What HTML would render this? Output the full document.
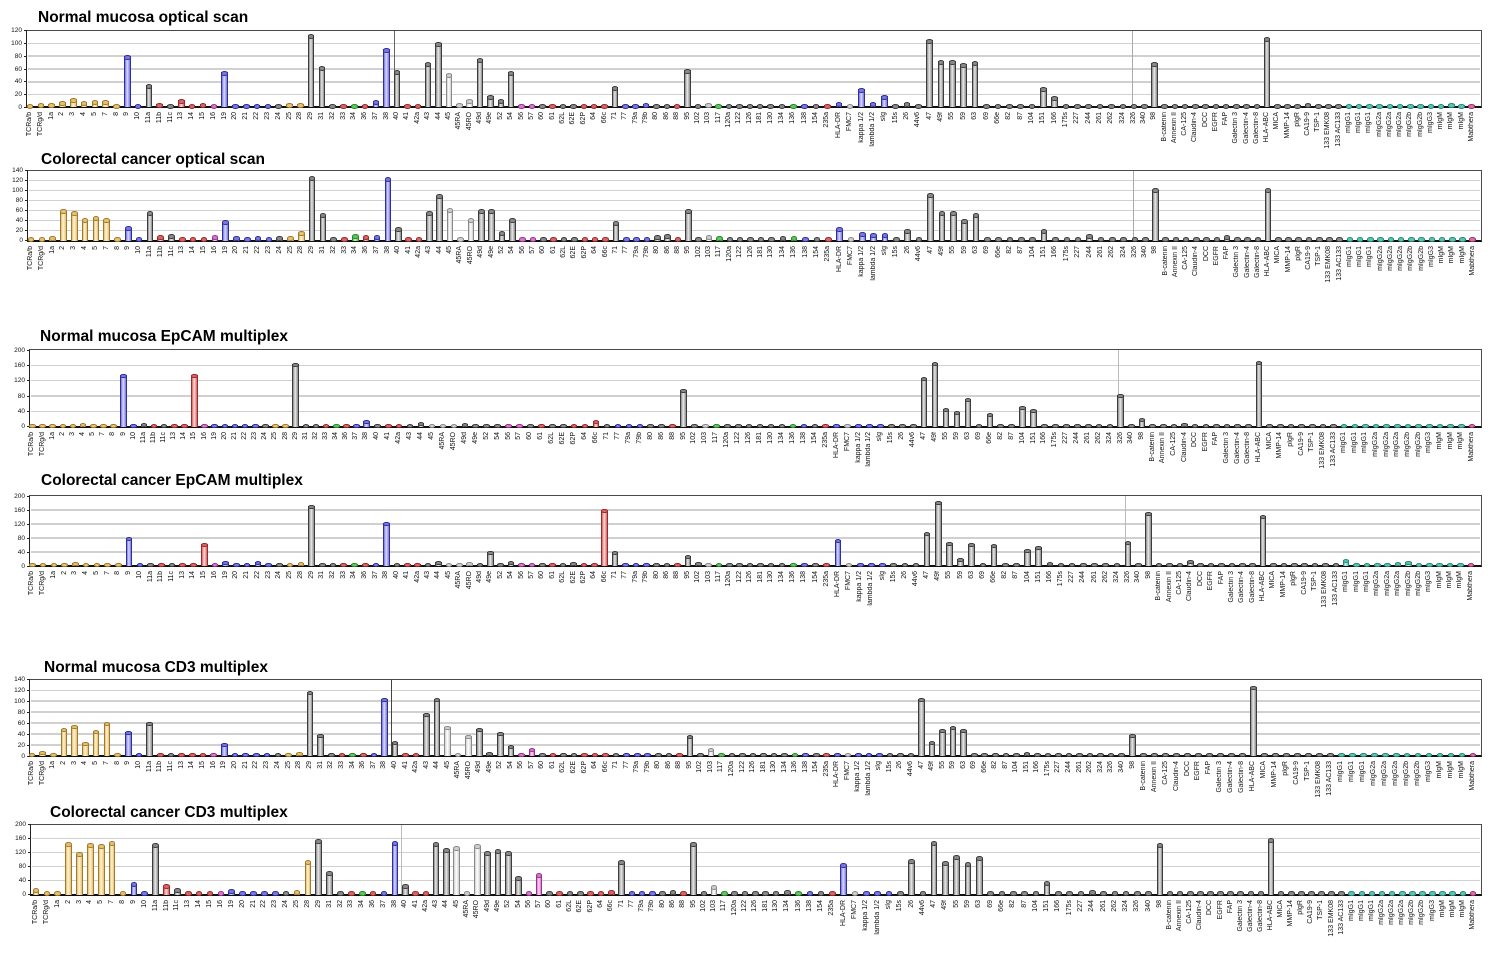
<!DOCTYPE html>
<html><head><meta charset="utf-8">
<style>
html,body{margin:0;padding:0}
body{width:1500px;height:957px;position:relative;background:#fff;overflow:hidden;font-family:"Liberation Sans",Arial,sans-serif}
.t{position:absolute;font-weight:bold;font-size:15.5px;line-height:18px;color:#000;white-space:nowrap}
.f{position:absolute;box-sizing:border-box;border-top:1.5px solid #4a4a4a;border-right:1.5px solid #4a4a4a;border-left:1.5px solid #222;border-bottom:2px solid #111}
.g{position:absolute;height:1.6px;background:#d0d0d0}
.k{position:absolute;width:3px;height:1px;background:#222}
.y{position:absolute;left:0;font-size:6.5px;line-height:7px;text-align:right;color:#111}
.v{position:absolute;width:1px}
.s{position:absolute;display:flex;height:0}
.s i{flex:1 1 0;position:relative;height:0;font-style:normal;--h:1px}
.s i::before{content:"";position:absolute;bottom:0;left:50%;margin-left:-3.3px;width:4.6px;height:var(--h);border:1px solid var(--d);border-bottom:0;background:linear-gradient(90deg,var(--c),var(--l) 45%,var(--c))}
.s i::after{content:"";position:absolute;bottom:calc(var(--h) - 2.3px);left:50%;margin-left:-3.3px;width:6.6px;height:4.6px;box-sizing:border-box;border:1px solid var(--d);border-radius:50%;background:var(--c)}
.s u{position:absolute;top:5px;left:50%;margin-left:-4px;width:8px;writing-mode:vertical-rl;transform:rotate(180deg);font-size:7px;line-height:8px;text-decoration:none;white-space:nowrap;color:#111}
.Y{--d:#a07a2c;--c:#e8c070;--l:#fff4d4}
.B{--d:#2e2e9e;--c:#7878e0;--l:#d8d8ff}
.G{--d:#3c3c3c;--c:#8a8a8a;--l:#e8e8e8}
.L{--d:#8a8a8a;--c:#cfcfcf;--l:#ffffff}
.R{--d:#9a2a2a;--c:#d86464;--l:#ffd8d8}
.P{--d:#9a3090;--c:#d878c8;--l:#ffd8f4}
.N{--d:#2a8a2a;--c:#5cc85c;--l:#c8f8c8}
.T{--d:#2a8a7a;--c:#58c4b4;--l:#c8f4ee}
.M{--d:#a03070;--c:#d870a8;--l:#ffd0e8}
</style></head><body>

<!-- ============ PANEL 1 ============ -->
<div class=t style="left:38px;top:9px">Normal mucosa optical scan</div>
<div class=g style="left:28px;width:1452px;top:93.7px"></div>
<div class=g style="left:28px;width:1452px;top:81px"></div>
<div class=g style="left:28px;width:1452px;top:68.2px"></div>
<div class=g style="left:28px;width:1452px;top:55.4px"></div>
<div class=g style="left:28px;width:1452px;top:42.7px"></div>
<div class=v style="left:393.5px;top:30.5px;height:77px;background:#666"></div>
<div class=v style="left:1131.5px;top:30.5px;height:77px;background:#aaa"></div>
<div class=f style="left:26.25px;top:29.75px;width:1455.5px;height:78.55px"></div>
<div class=y style="top:103.8px;width:22px">0</div>
<div class=y style="top:91px;width:22px">20</div>
<div class=y style="top:78.3px;width:22px">40</div>
<div class=y style="top:65.5px;width:22px">60</div>
<div class=y style="top:52.7px;width:22px">80</div>
<div class=y style="top:40px;width:22px">100</div>
<div class=y style="top:27.2px;width:22px">120</div>
<div class=k style="left:23.5px;top:106.8px"></div><div class=k style="left:23.5px;top:94px"></div><div class=k style="left:23.5px;top:81.3px"></div><div class=k style="left:23.5px;top:68.5px"></div><div class=k style="left:23.5px;top:55.7px"></div><div class=k style="left:23.5px;top:43px"></div><div class=k style="left:23.5px;top:30.2px"></div>

<div class=s style="left:24.6px;top:107.3px;width:356.7px">
<i class=Y><u>TCRa/b</u></i><i class=Y style=--h:2px><u>TCRg/d</u></i><i class=Y style=--h:2px><u>1a</u></i><i class=Y style=--h:4px><u>2</u></i><i class=Y style=--h:7px><u>3</u></i><i class=Y style=--h:4px><u>4</u></i><i class=Y style=--h:5px><u>5</u></i><i class=Y style=--h:5px><u>7</u></i><i class=Y><u>8</u></i><i class=B style=--h:50px><u>9</u></i><i class=B><u>10</u></i><i class=G style=--h:21px><u>11a</u></i><i class=R style=--h:2px><u>11b</u></i><i class=G><u>11c</u></i><i class=R style=--h:6px><u>13</u></i><i class=R><u>14</u></i><i class=R style=--h:2px><u>15</u></i><i class=P><u>16</u></i><i class=B style=--h:34px><u>19</u></i><i class=B><u>20</u></i><i class=B><u>21</u></i><i class=B><u>22</u></i><i class=B><u>23</u></i><i class=G><u>24</u></i><i class=Y style=--h:2px><u>25</u></i><i class=Y style=--h:2px><u>28</u></i><i class=G style=--h:71px><u>29</u></i><i class=G style=--h:39px><u>31</u></i><i class=G><u>32</u></i><i class=R><u>33</u></i><i class=N><u>34</u></i><i class=R><u>36</u></i><i class=B style=--h:5px><u>37</u></i>
</div>
<div class=s style="left:381.5px;top:107.3px;width:384px">
<i class=B style=--h:57px><u>38</u></i><i class=G style=--h:35px><u>40</u></i><i class=R><u>41</u></i><i class=R><u>42a</u></i><i class=G style=--h:43px><u>43</u></i><i class=G style=--h:63px><u>44</u></i><i class=L style=--h:32px><u>45</u></i><i class=L style=--h:2px><u>45RA</u></i><i class=L style=--h:6px><u>45RO</u></i><i class=G style=--h:47px><u>49d</u></i><i class=G style=--h:10px><u>49e</u></i><i class=G style=--h:6px><u>52</u></i><i class=G style=--h:34px><u>54</u></i><i class=P><u>56</u></i><i class=P><u>57</u></i><i class=G><u>60</u></i><i class=R><u>61</u></i><i class=G><u>62L</u></i><i class=G><u>62E</u></i><i class=R><u>62P</u></i><i class=R><u>64</u></i><i class=R><u>66c</u></i><i class=G style=--h:19px><u>71</u></i><i class=B><u>77</u></i><i class=B><u>79a</u></i><i class=B style=--h:2px><u>79b</u></i><i class=G><u>80</u></i><i class=G><u>86</u></i><i class=R><u>88</u></i><i class=G style=--h:36px><u>95</u></i><i class=G><u>102</u></i><i class=L style=--h:2px><u>103</u></i><i class=N><u>117</u></i><i class=G><u>120a</u></i><i class=G><u>122</u></i><i class=G><u>126</u></i><i class=G><u>181</u></i>
</div>
<div class=s style="left:765px;top:107.3px;width:363.3px">
<i class=G><u>130</u></i><i class=G><u>134</u></i><i class=N><u>136</u></i><i class=B><u>138</u></i><i class=G><u>154</u></i><i class=R><u>235a</u></i><i class=B style=--h:3px><u>HLA-DR</u></i><i class=L><u>FMC7</u></i><i class=B style=--h:17px><u>kappa 1/2</u></i><i class=B style=--h:3px><u>lambda 1/2</u></i><i class=B style=--h:10px><u>sIg</u></i><i class=G><u>15s</u></i><i class=G style=--h:3px><u>26</u></i><i class=G><u>44v6</u></i><i class=G style=--h:66px><u>47</u></i><i class=G style=--h:45px><u>49f</u></i><i class=G style=--h:45px><u>55</u></i><i class=G style=--h:42px><u>59</u></i><i class=G style=--h:44px><u>63</u></i><i class=G><u>69</u></i><i class=G><u>66e</u></i><i class=G><u>82</u></i><i class=G><u>87</u></i><i class=G><u>104</u></i><i class=G style=--h:18px><u>151</u></i><i class=G style=--h:9px><u>166</u></i><i class=G><u>175s</u></i><i class=G><u>227</u></i><i class=G><u>244</u></i><i class=G><u>261</u></i><i class=G><u>262</u></i><i class=G><u>324</u></i>
</div>
<div class=s style="left:1128.9px;top:107.3px;width:347.9px">
<i class=G><u>326</u></i><i class=G><u>340</u></i><i class=G style=--h:43px><u>98</u></i><i class=G><u>B-catenin</u></i><i class=G><u>Annexin II</u></i><i class=G><u>CA-125</u></i><i class=G><u>Claudin-4</u></i><i class=G><u>DCC</u></i><i class=G><u>EGFR</u></i><i class=G><u>FAP</u></i><i class=G><u>Galectin 3</u></i><i class=G><u>Galectin-4</u></i><i class=G><u>Galectin-8</u></i><i class=G style=--h:68px><u>HLA-ABC</u></i><i class=G><u>MICA</u></i><i class=G><u>MMP-14</u></i><i class=G><u>pIgR</u></i><i class=G style=--h:2px><u>CA19-9</u></i><i class=G><u>TSP-1</u></i><i class=G><u>133 EMK08</u></i><i class=G><u>133 AC133</u></i><i class=T><u>mIgG1</u></i><i class=T><u>mIgG1</u></i><i class=T><u>mIgG1</u></i><i class=T><u>mIgG2a</u></i><i class=T><u>mIgG2a</u></i><i class=T><u>mIgG2a</u></i><i class=T><u>mIgG2b</u></i><i class=T><u>mIgG2b</u></i><i class=T><u>mIgG3</u></i><i class=T><u>mIgM</u></i><i class=T style=--h:2px><u>mIgM</u></i><i class=T><u>mIgM</u></i><i class=M><u>Mabthera</u></i>
</div>

<!-- ============ PANEL 2 ============ -->
<div class=t style="left:41px;top:151px">Colorectal cancer optical scan</div>
<div class=g style="left:29px;width:1451px;top:229.7px"></div>
<div class=g style="left:29px;width:1451px;top:219.7px"></div>
<div class=g style="left:29px;width:1451px;top:209.7px"></div>
<div class=g style="left:29px;width:1451px;top:199.7px"></div>
<div class=g style="left:29px;width:1451px;top:189.7px"></div>
<div class=g style="left:29px;width:1451px;top:179.7px"></div>
<div class=v style="left:1132.5px;top:170.5px;height:70px;background:#aaa"></div>
<div class=f style="left:27.25px;top:169.75px;width:1454.5px;height:71.75px"></div>
<div class=y style="top:237px;width:23px">0</div>
<div class=y style="top:227px;width:23px">20</div>
<div class=y style="top:217px;width:23px">40</div>
<div class=y style="top:207px;width:23px">60</div>
<div class=y style="top:197px;width:23px">80</div>
<div class=y style="top:187px;width:23px">100</div>
<div class=y style="top:177px;width:23px">120</div>
<div class=y style="top:167px;width:23px">140</div>
<div class=k style="left:24.5px;top:240px"></div><div class=k style="left:24.5px;top:230px"></div><div class=k style="left:24.5px;top:220px"></div><div class=k style="left:24.5px;top:210px"></div><div class=k style="left:24.5px;top:200px"></div><div class=k style="left:24.5px;top:190px"></div><div class=k style="left:24.5px;top:180px"></div><div class=k style="left:24.5px;top:170px"></div>

<div class=s style="left:25.6px;top:240.5px;width:357px">
<i class=Y><u>TCRa/b</u></i><i class=Y><u>TCRg/d</u></i><i class=Y style=--h:2px><u>1a</u></i><i class=Y style=--h:29px><u>2</u></i><i class=Y style=--h:27px><u>3</u></i><i class=Y style=--h:20px><u>4</u></i><i class=Y style=--h:22px><u>5</u></i><i class=Y style=--h:20px><u>7</u></i><i class=Y><u>8</u></i><i class=B style=--h:12px><u>9</u></i><i class=B><u>10</u></i><i class=G style=--h:27px><u>11a</u></i><i class=R style=--h:3px><u>11b</u></i><i class=G style=--h:4px><u>11c</u></i><i class=R><u>13</u></i><i class=R><u>14</u></i><i class=R><u>15</u></i><i class=P style=--h:3px><u>16</u></i><i class=B style=--h:18px><u>19</u></i><i class=B style=--h:2px><u>20</u></i><i class=B><u>21</u></i><i class=B style=--h:2px><u>22</u></i><i class=B><u>23</u></i><i class=G style=--h:2px><u>24</u></i><i class=Y style=--h:2px><u>25</u></i><i class=Y style=--h:7px><u>28</u></i><i class=G style=--h:62px><u>29</u></i><i class=G style=--h:25px><u>31</u></i><i class=G><u>32</u></i><i class=R><u>33</u></i><i class=N style=--h:4px><u>34</u></i><i class=R style=--h:3px><u>36</u></i><i class=B style=--h:3px><u>37</u></i>
</div>
<div class=s style="left:382.8px;top:240.5px;width:383.5px">
<i class=B style=--h:61px><u>38</u></i><i class=G style=--h:11px><u>40</u></i><i class=R><u>41</u></i><i class=R><u>42a</u></i><i class=G style=--h:27px><u>43</u></i><i class=G style=--h:44px><u>44</u></i><i class=L style=--h:30px><u>45</u></i><i class=L><u>45RA</u></i><i class=L style=--h:20px><u>45RO</u></i><i class=G style=--h:29px><u>49d</u></i><i class=G style=--h:29px><u>49e</u></i><i class=G style=--h:7px><u>52</u></i><i class=G style=--h:20px><u>54</u></i><i class=P><u>56</u></i><i class=P><u>57</u></i><i class=G><u>60</u></i><i class=R><u>61</u></i><i class=G><u>62L</u></i><i class=G><u>62E</u></i><i class=R><u>62P</u></i><i class=R><u>64</u></i><i class=R><u>66c</u></i><i class=G style=--h:17px><u>71</u></i><i class=B><u>77</u></i><i class=B><u>79a</u></i><i class=B><u>79b</u></i><i class=G style=--h:3px><u>80</u></i><i class=G style=--h:4px><u>86</u></i><i class=R><u>88</u></i><i class=G style=--h:29px><u>95</u></i><i class=G><u>102</u></i><i class=L style=--h:3px><u>103</u></i><i class=N style=--h:2px><u>117</u></i><i class=G><u>120a</u></i><i class=G><u>122</u></i><i class=G><u>126</u></i><i class=G><u>181</u></i>
</div>
<div class=s style="left:765.8px;top:240.5px;width:363.5px">
<i class=G><u>130</u></i><i class=G style=--h:2px><u>134</u></i><i class=N style=--h:2px><u>136</u></i><i class=B><u>138</u></i><i class=G><u>154</u></i><i class=R><u>235a</u></i><i class=B style=--h:11px><u>HLA-DR</u></i><i class=L><u>FMC7</u></i><i class=B style=--h:6px><u>kappa 1/2</u></i><i class=B style=--h:5px><u>lambda 1/2</u></i><i class=B style=--h:5px><u>sIg</u></i><i class=G><u>15s</u></i><i class=G style=--h:9px><u>26</u></i><i class=G><u>44v6</u></i><i class=G style=--h:45px><u>47</u></i><i class=G style=--h:27px><u>49f</u></i><i class=G style=--h:27px><u>55</u></i><i class=G style=--h:19px><u>59</u></i><i class=G style=--h:25px><u>63</u></i><i class=G><u>69</u></i><i class=G><u>66e</u></i><i class=G><u>82</u></i><i class=G><u>87</u></i><i class=G><u>104</u></i><i class=G style=--h:9px><u>151</u></i><i class=G><u>166</u></i><i class=G><u>175s</u></i><i class=G><u>227</u></i><i class=G style=--h:4px><u>244</u></i><i class=G><u>261</u></i><i class=G><u>262</u></i><i class=G><u>324</u></i>
</div>
<div class=s style="left:1129.9px;top:240.5px;width:348.2px">
<i class=G><u>326</u></i><i class=G><u>340</u></i><i class=G style=--h:50px><u>98</u></i><i class=G><u>B-catenin</u></i><i class=G><u>Annexin II</u></i><i class=G><u>CA-125</u></i><i class=G><u>Claudin-4</u></i><i class=G><u>DCC</u></i><i class=G><u>EGFR</u></i><i class=G style=--h:3px><u>FAP</u></i><i class=G><u>Galectin 3</u></i><i class=G><u>Galectin-4</u></i><i class=G><u>Galectin-8</u></i><i class=G style=--h:50px><u>HLA-ABC</u></i><i class=G><u>MICA</u></i><i class=G><u>MMP-14</u></i><i class=G><u>pIgR</u></i><i class=G><u>CA19-9</u></i><i class=G><u>TSP-1</u></i><i class=G><u>133 EMK08</u></i><i class=G><u>133 AC133</u></i><i class=T><u>mIgG1</u></i><i class=T><u>mIgG1</u></i><i class=T><u>mIgG1</u></i><i class=T><u>mIgG2a</u></i><i class=T><u>mIgG2a</u></i><i class=T><u>mIgG2a</u></i><i class=T><u>mIgG2b</u></i><i class=T><u>mIgG2b</u></i><i class=T><u>mIgG3</u></i><i class=T><u>mIgM</u></i><i class=T><u>mIgM</u></i><i class=T><u>mIgM</u></i><i class=M><u>Mabthera</u></i>
</div>

<!-- ============ PANEL 3 ============ -->
<div class=t style="left:40px;top:328px">Normal mucosa EpCAM multiplex</div>
<div class=g style="left:31px;width:1449px;top:410.6px"></div>
<div class=g style="left:31px;width:1449px;top:395.3px"></div>
<div class=g style="left:31px;width:1449px;top:379.9px"></div>
<div class=g style="left:31px;width:1449px;top:364.6px"></div>
<div class=v style="left:1118px;top:350px;height:77px;background:#bbb"></div>
<div class=f style="left:29.25px;top:349.25px;width:1452.5px;height:78.55px"></div>
<div class=y style="top:423.3px;width:25px">0</div>
<div class=y style="top:407.9px;width:25px">40</div>
<div class=y style="top:392.6px;width:25px">80</div>
<div class=y style="top:377.2px;width:25px">120</div>
<div class=y style="top:361.9px;width:25px">160</div>
<div class=y style="top:346.5px;width:25px">200</div>
<div class=k style="left:26.5px;top:426.3px"></div><div class=k style="left:26.5px;top:410.9px"></div><div class=k style="left:26.5px;top:395.6px"></div><div class=k style="left:26.5px;top:380.2px"></div><div class=k style="left:26.5px;top:364.9px"></div><div class=k style="left:26.5px;top:349.5px"></div>

<div class=s style="left:27.4px;top:426.8px;width:333.9px">
<i class=Y><u>TCRa/b</u></i><i class=Y><u>TCRg/d</u></i><i class=Y><u>1a</u></i><i class=Y><u>2</u></i><i class=Y><u>3</u></i><i class=Y style=--h:2px><u>4</u></i><i class=Y><u>5</u></i><i class=Y><u>7</u></i><i class=Y><u>8</u></i><i class=B style=--h:51px><u>9</u></i><i class=B><u>10</u></i><i class=G style=--h:2px><u>11a</u></i><i class=R><u>11b</u></i><i class=G><u>11c</u></i><i class=R><u>13</u></i><i class=R><u>14</u></i><i class=R style=--h:51px><u>15</u></i><i class=P><u>16</u></i><i class=B><u>19</u></i><i class=B><u>20</u></i><i class=B><u>21</u></i><i class=B><u>22</u></i><i class=B><u>23</u></i><i class=G><u>24</u></i><i class=Y><u>25</u></i><i class=Y><u>28</u></i><i class=G style=--h:62px><u>29</u></i><i class=G><u>31</u></i><i class=G><u>32</u></i><i class=R><u>33</u></i><i class=N><u>34</u></i><i class=R><u>36</u></i><i class=B><u>37</u></i>
</div>
<div class=s style="left:360.9px;top:426.8px;width:754.3px">
<i class=B style=--h:5px><u>38</u></i><i class=G><u>40</u></i><i class=R><u>41</u></i><i class=R><u>42a</u></i><i class=G><u>43</u></i><i class=G style=--h:3px><u>44</u></i><i class=L><u>45</u></i><i class=L><u>45RA</u></i><i class=L><u>45RO</u></i><i class=G style=--h:2px><u>49d</u></i><i class=G><u>49e</u></i><i class=G><u>52</u></i><i class=G><u>54</u></i><i class=P><u>56</u></i><i class=P><u>57</u></i><i class=G><u>60</u></i><i class=R><u>61</u></i><i class=G><u>62L</u></i><i class=G><u>62E</u></i><i class=R><u>62P</u></i><i class=R><u>64</u></i><i class=R style=--h:5px><u>66c</u></i><i class=G><u>71</u></i><i class=B><u>77</u></i><i class=B><u>79a</u></i><i class=B><u>79b</u></i><i class=G><u>80</u></i><i class=G><u>86</u></i><i class=R><u>88</u></i><i class=G style=--h:36px><u>95</u></i><i class=G><u>102</u></i><i class=L><u>103</u></i><i class=N><u>117</u></i><i class=G><u>120a</u></i><i class=G><u>122</u></i><i class=G><u>126</u></i><i class=G><u>181</u></i><i class=G><u>130</u></i><i class=G><u>134</u></i><i class=N><u>136</u></i><i class=B><u>138</u></i><i class=G><u>154</u></i><i class=R><u>235a</u></i><i class=B><u>HLA-DR</u></i><i class=L><u>FMC7</u></i><i class=B><u>kappa 1/2</u></i><i class=B><u>lambda 1/2</u></i><i class=B><u>sIg</u></i><i class=G><u>15s</u></i><i class=G><u>26</u></i><i class=G><u>44v6</u></i><i class=G style=--h:48px><u>47</u></i><i class=G style=--h:63px><u>49f</u></i><i class=G style=--h:17px><u>55</u></i><i class=G style=--h:14px><u>59</u></i><i class=G style=--h:27px><u>63</u></i><i class=G><u>69</u></i><i class=G style=--h:12px><u>66e</u></i><i class=G><u>82</u></i><i class=G><u>87</u></i><i class=G style=--h:19px><u>104</u></i><i class=G style=--h:16px><u>151</u></i><i class=G><u>166</u></i><i class=G><u>175s</u></i><i class=G><u>227</u></i><i class=G><u>244</u></i><i class=G><u>261</u></i><i class=G><u>262</u></i><i class=G><u>324</u></i>
</div>
<div class=s style="left:1115.4px;top:426.8px;width:361.9px">
<i class=G style=--h:31px><u>326</u></i><i class=G><u>340</u></i><i class=G style=--h:7px><u>98</u></i><i class=G><u>B-catenin</u></i><i class=G><u>Annexin II</u></i><i class=G><u>CA-125</u></i><i class=G style=--h:2px><u>Claudin-4</u></i><i class=G><u>DCC</u></i><i class=G><u>EGFR</u></i><i class=G><u>FAP</u></i><i class=G><u>Galectin 3</u></i><i class=G><u>Galectin-4</u></i><i class=G><u>Galectin-8</u></i><i class=G style=--h:64px><u>HLA-ABC</u></i><i class=G><u>MICA</u></i><i class=G><u>MMP-14</u></i><i class=G><u>pIgR</u></i><i class=G><u>CA19-9</u></i><i class=G><u>TSP-1</u></i><i class=G><u>133 EMK08</u></i><i class=G><u>133 AC133</u></i><i class=T><u>mIgG1</u></i><i class=T><u>mIgG1</u></i><i class=T><u>mIgG1</u></i><i class=T><u>mIgG2a</u></i><i class=T><u>mIgG2a</u></i><i class=T><u>mIgG2a</u></i><i class=T><u>mIgG2b</u></i><i class=T><u>mIgG2b</u></i><i class=T><u>mIgG3</u></i><i class=T><u>mIgM</u></i><i class=T><u>mIgM</u></i><i class=T><u>mIgM</u></i><i class=M><u>Mabthera</u></i>
</div>

<!-- ============ PANEL 4 ============ -->
<div class=t style="left:41px;top:472px">Colorectal cancer EpCAM multiplex</div>
<div class=g style="left:31px;width:1449px;top:551.2px"></div>
<div class=g style="left:31px;width:1449px;top:537.2px"></div>
<div class=g style="left:31px;width:1449px;top:523.2px"></div>
<div class=g style="left:31px;width:1449px;top:509.2px"></div>
<div class=v style="left:1124.5px;top:496px;height:70px;background:#bbb"></div>
<div class=f style="left:29.25px;top:495.25px;width:1452.5px;height:71.75px"></div>
<div class=y style="top:562.5px;width:25px">0</div>
<div class=y style="top:548.5px;width:25px">40</div>
<div class=y style="top:534.5px;width:25px">80</div>
<div class=y style="top:520.5px;width:25px">120</div>
<div class=y style="top:506.5px;width:25px">160</div>
<div class=y style="top:492.5px;width:25px">200</div>
<div class=k style="left:26.5px;top:565.5px"></div><div class=k style="left:26.5px;top:551.5px"></div><div class=k style="left:26.5px;top:537.5px"></div><div class=k style="left:26.5px;top:523.5px"></div><div class=k style="left:26.5px;top:509.5px"></div><div class=k style="left:26.5px;top:495.5px"></div>

<div class=s style="left:27.1px;top:566px;width:354px">
<i class=Y><u>TCRa/b</u></i><i class=Y><u>TCRg/d</u></i><i class=Y><u>1a</u></i><i class=Y><u>2</u></i><i class=Y style=--h:2px><u>3</u></i><i class=Y><u>4</u></i><i class=Y><u>5</u></i><i class=Y><u>7</u></i><i class=Y><u>8</u></i><i class=B style=--h:27px><u>9</u></i><i class=B><u>10</u></i><i class=G><u>11a</u></i><i class=R><u>11b</u></i><i class=G><u>11c</u></i><i class=R><u>13</u></i><i class=R><u>14</u></i><i class=R style=--h:21px><u>15</u></i><i class=P><u>16</u></i><i class=B style=--h:3px><u>19</u></i><i class=B><u>20</u></i><i class=B><u>21</u></i><i class=B style=--h:3px><u>22</u></i><i class=B><u>23</u></i><i class=G><u>24</u></i><i class=Y><u>25</u></i><i class=Y style=--h:2px><u>28</u></i><i class=G style=--h:59px><u>29</u></i><i class=G><u>31</u></i><i class=G><u>32</u></i><i class=R><u>33</u></i><i class=N><u>34</u></i><i class=R><u>36</u></i><i class=B><u>37</u></i>
</div>
<div class=s style="left:381.3px;top:566px;width:384.5px">
<i class=B style=--h:42px><u>38</u></i><i class=G><u>40</u></i><i class=R><u>41</u></i><i class=R><u>42a</u></i><i class=G><u>43</u></i><i class=G style=--h:3px><u>44</u></i><i class=L><u>45</u></i><i class=L><u>45RA</u></i><i class=L style=--h:2px><u>45RO</u></i><i class=G><u>49d</u></i><i class=G style=--h:13px><u>49e</u></i><i class=G><u>52</u></i><i class=G style=--h:3px><u>54</u></i><i class=P><u>56</u></i><i class=P><u>57</u></i><i class=G><u>60</u></i><i class=R><u>61</u></i><i class=G><u>62L</u></i><i class=G style=--h:2px><u>62E</u></i><i class=R><u>62P</u></i><i class=R><u>64</u></i><i class=R style=--h:55px><u>66c</u></i><i class=G style=--h:13px><u>71</u></i><i class=B><u>77</u></i><i class=B><u>79a</u></i><i class=B><u>79b</u></i><i class=G><u>80</u></i><i class=G><u>86</u></i><i class=R><u>88</u></i><i class=G style=--h:9px><u>95</u></i><i class=G style=--h:2px><u>102</u></i><i class=L><u>103</u></i><i class=N><u>117</u></i><i class=G><u>120a</u></i><i class=G><u>122</u></i><i class=G><u>126</u></i><i class=G><u>181</u></i>
</div>
<div class=s style="left:765.4px;top:566px;width:357px">
<i class=G><u>130</u></i><i class=G><u>134</u></i><i class=N><u>136</u></i><i class=B><u>138</u></i><i class=G><u>154</u></i><i class=R><u>235a</u></i><i class=B style=--h:25px><u>HLA-DR</u></i><i class=L><u>FMC7</u></i><i class=B><u>kappa 1/2</u></i><i class=B><u>lambda 1/2</u></i><i class=B><u>sIg</u></i><i class=G><u>15s</u></i><i class=G><u>26</u></i><i class=G><u>44v6</u></i><i class=G style=--h:32px><u>47</u></i><i class=G style=--h:63px><u>49f</u></i><i class=G style=--h:22px><u>55</u></i><i class=G style=--h:6px><u>59</u></i><i class=G style=--h:21px><u>63</u></i><i class=G><u>69</u></i><i class=G style=--h:20px><u>66e</u></i><i class=G><u>82</u></i><i class=G><u>87</u></i><i class=G style=--h:15px><u>104</u></i><i class=G style=--h:18px><u>151</u></i><i class=G style=--h:2px><u>166</u></i><i class=G><u>175s</u></i><i class=G><u>227</u></i><i class=G><u>244</u></i><i class=G><u>261</u></i><i class=G><u>262</u></i><i class=G><u>324</u></i>
</div>
<div class=s style="left:1122.8px;top:566px;width:353.4px">
<i class=G style=--h:23px><u>326</u></i><i class=G><u>340</u></i><i class=G style=--h:52px><u>98</u></i><i class=G><u>B-catenin</u></i><i class=G><u>Annexin II</u></i><i class=G><u>CA-125</u></i><i class=G style=--h:4px><u>Claudin-4</u></i><i class=G><u>DCC</u></i><i class=G><u>EGFR</u></i><i class=G><u>FAP</u></i><i class=G><u>Galectin 3</u></i><i class=G><u>Galectin-4</u></i><i class=G><u>Galectin-8</u></i><i class=G style=--h:49px><u>HLA-ABC</u></i><i class=G><u>MICA</u></i><i class=G><u>MMP-14</u></i><i class=G><u>pIgR</u></i><i class=G><u>CA19-9</u></i><i class=G><u>TSP-1</u></i><i class=G><u>133 EMK08</u></i><i class=G><u>133 AC133</u></i><i class=T style=--h:5px><u>mIgG1</u></i><i class=T><u>mIgG1</u></i><i class=T><u>mIgG1</u></i><i class=T><u>mIgG2a</u></i><i class=T><u>mIgG2a</u></i><i class=T style=--h:2px><u>mIgG2a</u></i><i class=T style=--h:3px><u>mIgG2b</u></i><i class=T><u>mIgG2b</u></i><i class=T><u>mIgG3</u></i><i class=T><u>mIgM</u></i><i class=T><u>mIgM</u></i><i class=T><u>mIgM</u></i><i class=M><u>Mabthera</u></i>
</div>

<!-- ============ PANEL 5 ============ -->
<div class=t style="left:44px;top:659px">Normal mucosa CD3 multiplex</div>
<div class=g style="left:31px;width:1449px;top:744.2px"></div>
<div class=g style="left:31px;width:1449px;top:733.3px"></div>
<div class=g style="left:31px;width:1449px;top:722.3px"></div>
<div class=g style="left:31px;width:1449px;top:711.4px"></div>
<div class=g style="left:31px;width:1449px;top:700.4px"></div>
<div class=g style="left:31px;width:1449px;top:689.5px"></div>
<div class=v style="left:390.5px;top:679.3px;height:77px;background:#444"></div>
<div class=f style="left:29.25px;top:678.55px;width:1452.5px;height:78.45px"></div>
<div class=y style="top:752.5px;width:25px">0</div>
<div class=y style="top:741.5px;width:25px">20</div>
<div class=y style="top:730.6px;width:25px">40</div>
<div class=y style="top:719.6px;width:25px">60</div>
<div class=y style="top:708.7px;width:25px">80</div>
<div class=y style="top:697.7px;width:25px">100</div>
<div class=y style="top:686.8px;width:25px">120</div>
<div class=y style="top:675.8px;width:25px">140</div>
<div class=k style="left:26.5px;top:755.5px"></div><div class=k style="left:26.5px;top:744.5px"></div><div class=k style="left:26.5px;top:733.6px"></div><div class=k style="left:26.5px;top:722.6px"></div><div class=k style="left:26.5px;top:711.7px"></div><div class=k style="left:26.5px;top:700.7px"></div><div class=k style="left:26.5px;top:689.8px"></div><div class=k style="left:26.5px;top:678.8px"></div>

<div class=s style="left:26.7px;top:756px;width:352.5px">
<i class=Y><u>TCRa/b</u></i><i class=Y style=--h:3px><u>TCRg/d</u></i><i class=Y><u>1a</u></i><i class=Y style=--h:26px><u>2</u></i><i class=Y style=--h:29px><u>3</u></i><i class=Y style=--h:12px><u>4</u></i><i class=Y style=--h:24px><u>5</u></i><i class=Y style=--h:32px><u>7</u></i><i class=Y><u>8</u></i><i class=B style=--h:23px><u>9</u></i><i class=B><u>10</u></i><i class=G style=--h:32px><u>11a</u></i><i class=R><u>11b</u></i><i class=G><u>11c</u></i><i class=R><u>13</u></i><i class=R><u>14</u></i><i class=R><u>15</u></i><i class=P><u>16</u></i><i class=B style=--h:11px><u>19</u></i><i class=B><u>20</u></i><i class=B><u>21</u></i><i class=B><u>22</u></i><i class=B><u>23</u></i><i class=G><u>24</u></i><i class=Y><u>25</u></i><i class=Y style=--h:2px><u>28</u></i><i class=G style=--h:63px><u>29</u></i><i class=G style=--h:20px><u>31</u></i><i class=G><u>32</u></i><i class=R><u>33</u></i><i class=N><u>34</u></i><i class=R><u>36</u></i><i class=B><u>37</u></i>
</div>
<div class=s style="left:379.2px;top:756px;width:748.1px">
<i class=B style=--h:56px><u>38</u></i><i class=G style=--h:13px><u>40</u></i><i class=R><u>41</u></i><i class=R><u>42a</u></i><i class=G style=--h:41px><u>43</u></i><i class=G style=--h:56px><u>44</u></i><i class=L style=--h:28px><u>45</u></i><i class=L><u>45RA</u></i><i class=L style=--h:19px><u>45RO</u></i><i class=G style=--h:26px><u>49d</u></i><i class=G style=--h:2px><u>49e</u></i><i class=G style=--h:22px><u>52</u></i><i class=G style=--h:9px><u>54</u></i><i class=P><u>56</u></i><i class=P style=--h:6px><u>57</u></i><i class=G><u>60</u></i><i class=R><u>61</u></i><i class=G><u>62L</u></i><i class=G><u>62E</u></i><i class=R><u>62P</u></i><i class=R><u>64</u></i><i class=R><u>66c</u></i><i class=G><u>71</u></i><i class=B><u>77</u></i><i class=B><u>79a</u></i><i class=B><u>79b</u></i><i class=G><u>80</u></i><i class=G><u>86</u></i><i class=R><u>88</u></i><i class=G style=--h:19px><u>95</u></i><i class=G><u>102</u></i><i class=L style=--h:6px><u>103</u></i><i class=N><u>117</u></i><i class=G><u>120a</u></i><i class=G><u>122</u></i><i class=G><u>126</u></i><i class=G><u>181</u></i><i class=G><u>130</u></i><i class=G><u>134</u></i><i class=N><u>136</u></i><i class=B><u>138</u></i><i class=G><u>154</u></i><i class=R><u>235a</u></i><i class=B><u>HLA-DR</u></i><i class=L><u>FMC7</u></i><i class=B><u>kappa 1/2</u></i><i class=B><u>lambda 1/2</u></i><i class=B><u>sIg</u></i><i class=G><u>15s</u></i><i class=G><u>26</u></i><i class=G><u>44v6</u></i><i class=G style=--h:56px><u>47</u></i><i class=G style=--h:13px><u>49f</u></i><i class=G style=--h:25px><u>55</u></i><i class=G style=--h:28px><u>59</u></i><i class=G style=--h:25px><u>63</u></i><i class=G><u>69</u></i><i class=G><u>66e</u></i><i class=G><u>82</u></i><i class=G><u>87</u></i><i class=G><u>104</u></i><i class=G style=--h:2px><u>151</u></i><i class=G><u>166</u></i><i class=G><u>175s</u></i><i class=G><u>227</u></i><i class=G><u>244</u></i><i class=G><u>261</u></i><i class=G><u>262</u></i><i class=G><u>324</u></i><i class=G><u>326</u></i><i class=G><u>340</u></i>
</div>
<div class=s style="left:1127.1px;top:756px;width:351.4px">
<i class=G style=--h:20px><u>98</u></i><i class=G><u>B-catenin</u></i><i class=G><u>Annexin II</u></i><i class=G><u>CA-125</u></i><i class=G><u>Claudin-4</u></i><i class=G><u>DCC</u></i><i class=G><u>EGFR</u></i><i class=G><u>FAP</u></i><i class=G><u>Galectin 3</u></i><i class=G><u>Galectin-4</u></i><i class=G><u>Galectin-8</u></i><i class=G style=--h:68px><u>HLA-ABC</u></i><i class=G><u>MICA</u></i><i class=G><u>MMP-14</u></i><i class=G><u>pIgR</u></i><i class=G><u>CA19-9</u></i><i class=G><u>TSP-1</u></i><i class=G><u>133 EMK08</u></i><i class=G><u>133 AC133</u></i><i class=T><u>mIgG1</u></i><i class=T><u>mIgG1</u></i><i class=T><u>mIgG1</u></i><i class=T><u>mIgG2a</u></i><i class=T><u>mIgG2a</u></i><i class=T><u>mIgG2a</u></i><i class=T><u>mIgG2b</u></i><i class=T><u>mIgG2b</u></i><i class=T><u>mIgG3</u></i><i class=T><u>mIgM</u></i><i class=T><u>mIgM</u></i><i class=T><u>mIgM</u></i><i class=M><u>Mabthera</u></i>
</div>

<!-- ============ PANEL 6 ============ -->
<div class=t style="left:50px;top:804px">Colorectal cancer CD3 multiplex</div>
<div class=g style="left:32px;width:1448px;top:879.7px"></div>
<div class=g style="left:32px;width:1448px;top:865.7px"></div>
<div class=g style="left:32px;width:1448px;top:851.7px"></div>
<div class=g style="left:32px;width:1448px;top:837.7px"></div>
<div class=v style="left:401px;top:824.5px;height:70px;background:#bbb"></div>
<div class=f style="left:30.25px;top:823.75px;width:1451.5px;height:71.75px"></div>
<div class=y style="top:891px;width:26px">0</div>
<div class=y style="top:877px;width:26px">40</div>
<div class=y style="top:863px;width:26px">80</div>
<div class=y style="top:849px;width:26px">120</div>
<div class=y style="top:835px;width:26px">160</div>
<div class=y style="top:821px;width:26px">200</div>
<div class=k style="left:27.5px;top:894px"></div><div class=k style="left:27.5px;top:880px"></div><div class=k style="left:27.5px;top:866px"></div><div class=k style="left:27.5px;top:852px"></div><div class=k style="left:27.5px;top:838px"></div><div class=k style="left:27.5px;top:824px"></div>

<div class=s style="left:30.6px;top:894.5px;width:359px">
<i class=Y style=--h:4px><u>TCRa/b</u></i><i class=Y><u>TCRg/d</u></i><i class=Y><u>1a</u></i><i class=Y style=--h:50px><u>2</u></i><i class=Y style=--h:40px><u>3</u></i><i class=Y style=--h:49px><u>4</u></i><i class=Y style=--h:48px><u>5</u></i><i class=Y style=--h:51px><u>7</u></i><i class=Y><u>8</u></i><i class=B style=--h:10px><u>9</u></i><i class=B><u>10</u></i><i class=G style=--h:49px><u>11a</u></i><i class=R style=--h:8px><u>11b</u></i><i class=G style=--h:4px><u>11c</u></i><i class=R><u>13</u></i><i class=R><u>14</u></i><i class=R><u>15</u></i><i class=P><u>16</u></i><i class=B style=--h:3px><u>19</u></i><i class=B><u>20</u></i><i class=B><u>21</u></i><i class=B><u>22</u></i><i class=B><u>23</u></i><i class=G><u>24</u></i><i class=Y style=--h:2px><u>25</u></i><i class=Y style=--h:32px><u>28</u></i><i class=G style=--h:53px><u>29</u></i><i class=G style=--h:21px><u>31</u></i><i class=G><u>32</u></i><i class=R><u>33</u></i><i class=N><u>34</u></i><i class=R><u>36</u></i><i class=B><u>37</u></i>
</div>
<div class=s style="left:389.85px;top:894.5px;width:381px">
<i class=B style=--h:51px><u>38</u></i><i class=G style=--h:8px><u>40</u></i><i class=R><u>41</u></i><i class=R><u>42a</u></i><i class=G style=--h:50px><u>43</u></i><i class=G style=--h:44px><u>44</u></i><i class=L style=--h:46px><u>45</u></i><i class=L><u>45RA</u></i><i class=L style=--h:48px><u>45RO</u></i><i class=G style=--h:41px><u>49d</u></i><i class=G style=--h:43px><u>49e</u></i><i class=G style=--h:41px><u>52</u></i><i class=G style=--h:16px><u>54</u></i><i class=P><u>56</u></i><i class=P style=--h:19px><u>57</u></i><i class=G><u>60</u></i><i class=R><u>61</u></i><i class=G><u>62L</u></i><i class=G><u>62E</u></i><i class=R><u>62P</u></i><i class=R><u>64</u></i><i class=R style=--h:2px><u>66c</u></i><i class=G style=--h:32px><u>71</u></i><i class=B><u>77</u></i><i class=B><u>79a</u></i><i class=B><u>79b</u></i><i class=G><u>80</u></i><i class=G style=--h:2px><u>86</u></i><i class=R><u>88</u></i><i class=G style=--h:50px><u>95</u></i><i class=G><u>102</u></i><i class=L style=--h:7px><u>103</u></i><i class=N><u>117</u></i><i class=G><u>120a</u></i><i class=G><u>122</u></i><i class=G><u>126</u></i><i class=G><u>181</u></i>
</div>
<div class=s style="left:770.35px;top:894.5px;width:384px">
<i class=G><u>130</u></i><i class=G style=--h:2px><u>134</u></i><i class=N><u>136</u></i><i class=B><u>138</u></i><i class=G><u>154</u></i><i class=R><u>235a</u></i><i class=B style=--h:29px><u>HLA-DR</u></i><i class=L><u>FMC7</u></i><i class=B><u>kappa 1/2</u></i><i class=B><u>lambda 1/2</u></i><i class=B><u>sIg</u></i><i class=G><u>15s</u></i><i class=G style=--h:33px><u>26</u></i><i class=G><u>44v6</u></i><i class=G style=--h:51px><u>47</u></i><i class=G style=--h:31px><u>49f</u></i><i class=G style=--h:37px><u>55</u></i><i class=G style=--h:30px><u>59</u></i><i class=G style=--h:36px><u>63</u></i><i class=G><u>69</u></i><i class=G><u>66e</u></i><i class=G><u>82</u></i><i class=G><u>87</u></i><i class=G><u>104</u></i><i class=G style=--h:11px><u>151</u></i><i class=G><u>166</u></i><i class=G><u>175s</u></i><i class=G><u>227</u></i><i class=G style=--h:2px><u>244</u></i><i class=G><u>261</u></i><i class=G><u>262</u></i><i class=G><u>324</u></i><i class=G><u>326</u></i><i class=G><u>340</u></i>
</div>
<div class=s style="left:1154.95px;top:894.5px;width:323.1px">
<i class=G style=--h:49px><u>98</u></i><i class=G><u>B-catenin</u></i><i class=G><u>Annexin II</u></i><i class=G><u>CA-125</u></i><i class=G><u>Claudin-4</u></i><i class=G><u>DCC</u></i><i class=G><u>EGFR</u></i><i class=G><u>FAP</u></i><i class=G><u>Galectin 3</u></i><i class=G><u>Galectin-4</u></i><i class=G><u>Galectin-8</u></i><i class=G style=--h:54px><u>HLA-ABC</u></i><i class=G><u>MICA</u></i><i class=G><u>MMP-14</u></i><i class=G><u>pIgR</u></i><i class=G><u>CA19-9</u></i><i class=G><u>TSP-1</u></i><i class=G><u>133 EMK08</u></i><i class=G><u>133 AC133</u></i><i class=T><u>mIgG1</u></i><i class=T><u>mIgG1</u></i><i class=T><u>mIgG1</u></i><i class=T><u>mIgG2a</u></i><i class=T><u>mIgG2a</u></i><i class=T><u>mIgG2a</u></i><i class=T><u>mIgG2b</u></i><i class=T><u>mIgG2b</u></i><i class=T><u>mIgG3</u></i><i class=T><u>mIgM</u></i><i class=T><u>mIgM</u></i><i class=T><u>mIgM</u></i><i class=M><u>Mabthera</u></i>
</div>

</body></html>
